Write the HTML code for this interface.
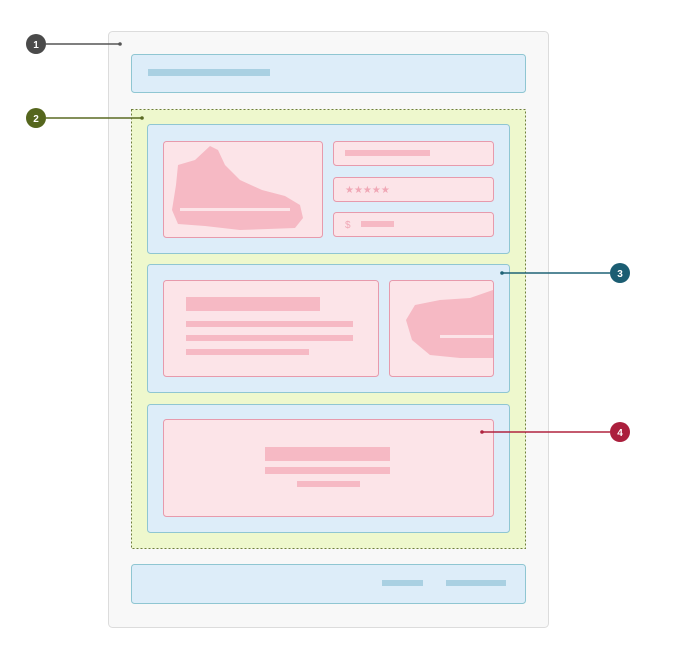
<!DOCTYPE html>
<html><head><style>body{margin:0;background:#fff}svg{display:block}</style></head><body>
<svg width="686" height="671" viewBox="0 0 686 671" xmlns="http://www.w3.org/2000/svg" font-family="Liberation Sans, sans-serif">
<rect x="108.5" y="31.5" width="440" height="596" rx="4" fill="#f8f8f8" stroke="#dcdcdc"/>
<rect x="131.5" y="54.5" width="394" height="38" rx="3" fill="#ddedf9" stroke="#8fc6d2"/>
<rect x="148" y="69" width="122" height="7" fill="#a9d0e2"/>
<rect x="131.5" y="109.5" width="394" height="439" fill="#eef8cd" stroke="#6f7f3a" stroke-dasharray="2,2"/>
<g fill="#ddedf9" stroke="#8fc6d2">
<rect x="147.5" y="124.5" width="362" height="129" rx="3"/>
<rect x="147.5" y="264.5" width="362" height="128" rx="3"/>
<rect x="147.5" y="404.5" width="362" height="128" rx="3"/>
</g>
<g fill="#fce4e8" stroke="#e79aac">
<rect x="163.5" y="141.5" width="159" height="96" rx="3"/>
<rect x="333.5" y="141.5" width="160" height="24" rx="3"/>
<rect x="333.5" y="177.5" width="160" height="24" rx="3"/>
<rect x="333.5" y="212.5" width="160" height="24" rx="3"/>
<rect x="163.5" y="280.5" width="215" height="96" rx="3"/>
<rect x="389.5" y="280.5" width="104" height="96" rx="3"/>
<rect x="163.5" y="419.5" width="330" height="97" rx="3"/>
</g>
<g fill="#f6b9c4">
<path d="M178 165 L195 160 L210 146 L218 150 L225 165 L240 180 L262 190 L285 196 L300 205 L303 218 L295 228 L240 230 L205 226 L178 224 L172 210 L176 185 Z"/>
<rect x="345" y="150" width="85" height="6"/>
<rect x="361" y="221" width="33" height="6"/>
<rect x="186" y="297" width="134" height="14"/>
<rect x="186" y="321" width="167" height="6"/>
<rect x="186" y="335" width="167" height="6"/>
<rect x="186" y="349" width="123" height="6"/>
<path d="M493 290 L470 298 L440 300 L415 305 L406 320 L412 340 L430 355 L460 358 L493 358 Z"/>
<rect x="265" y="447" width="125" height="14"/>
<rect x="265" y="467" width="125" height="7"/>
<rect x="297" y="481" width="63" height="6"/>
</g>
<g fill="#fce4e8"><rect x="180" y="208" width="110" height="3"/><rect x="440" y="335" width="53" height="3"/></g>
<text x="345" y="193" font-size="10" fill="#f0a8b6">★★★★★</text>
<text x="345" y="228" font-size="10" fill="#f0a8b6">$</text>
<rect x="131.5" y="564.5" width="394" height="39" rx="3" fill="#ddedf9" stroke="#8fc6d2"/>
<rect x="382" y="580" width="41" height="6" fill="#a9d0e2"/>
<rect x="446" y="580" width="60" height="6" fill="#a9d0e2"/>
<g stroke-width="1.5">
<line x1="46" y1="44" x2="120" y2="44" stroke="#555"/><circle cx="120" cy="44" r="1.8" fill="#555"/>
<line x1="46" y1="118" x2="142" y2="118" stroke="#5a6a22"/><circle cx="142" cy="118" r="1.8" fill="#5a6a22"/>
<line x1="502" y1="273" x2="610" y2="273" stroke="#1f6276"/><circle cx="502" cy="273" r="1.8" fill="#1f6276"/>
<line x1="482" y1="432" x2="610" y2="432" stroke="#b0233f"/><circle cx="482" cy="432" r="1.8" fill="#b0233f"/>
</g>
<g font-size="10" font-weight="bold" fill="#fff" text-anchor="middle">
<circle cx="36" cy="44" r="10" fill="#4a4a4a"/><text x="36" y="48">1</text>
<circle cx="36" cy="118" r="10" fill="#55661d"/><text x="36" y="122">2</text>
<circle cx="620" cy="273" r="10" fill="#1b5d72"/><text x="620" y="277">3</text>
<circle cx="620" cy="432" r="10" fill="#ab1f3d"/><text x="620" y="436">4</text>
</g>
</svg>
</body></html>
